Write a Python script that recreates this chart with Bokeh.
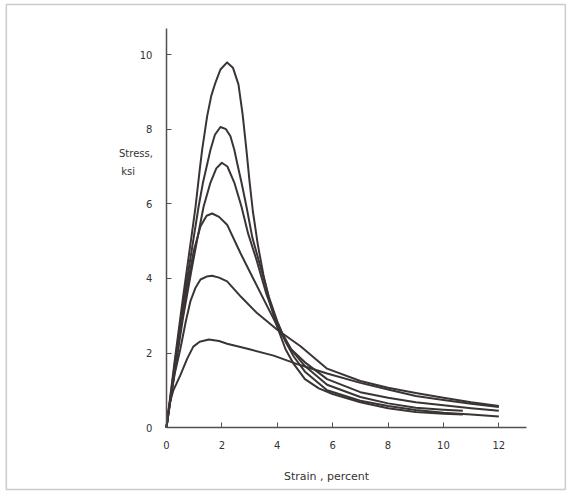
from bokeh.plotting import figure
from bokeh.models import Label, BoxAnnotation, FixedTicker
from bokeh.embed import file_html
from bokeh.resources import INLINE

# Stress-strain curves (strain in percent, stress in ksi)
c1_x = [0, 0.3, 0.6, 0.9, 1.05, 1.2, 1.29, 1.47, 1.62, 1.77, 1.95, 2.19, 2.4, 2.6, 2.75, 2.88, 3.0, 3.12,
        3.3, 3.5, 3.75, 4.0, 4.3, 4.6, 5.0, 5.5, 6, 7, 8, 9, 10, 10.7]
c1_y = [0, 1.8, 3.5, 5.1, 5.92, 6.9, 7.45, 8.35, 8.9, 9.25, 9.6, 9.79, 9.65, 9.2, 8.4, 7.5, 6.6, 5.8,
        4.9, 4.1, 3.3, 2.7, 2.1, 1.7, 1.3, 1.05, 0.9, 0.68, 0.52, 0.42, 0.37, 0.35]

c2_x = [0, 0.3, 0.6, 0.9, 1.16, 1.32, 1.59, 1.75, 1.95, 2.15, 2.31, 2.45, 2.58, 2.71, 2.89, 3.1, 3.4,
        3.7, 4.0, 4.3, 4.6, 5.0, 5.8, 7, 8, 9, 10, 11, 12]
c2_y = [0, 1.7, 3.3, 4.7, 5.92, 6.57, 7.45, 7.85, 8.06, 8.0, 7.81, 7.45, 7.0, 6.57, 5.92, 5.1, 4.3,
        3.5, 2.85, 2.3, 1.9, 1.5, 1.0, 0.72, 0.58, 0.47, 0.4, 0.35, 0.3]

c3_x = [0, 0.3, 0.6, 0.9, 1.1, 1.34, 1.59, 1.8, 2.0, 2.2, 2.45, 2.71, 2.95, 3.25, 3.6, 3.9, 4.2, 4.5,
        5.0, 5.8, 7, 8, 9, 10, 10.7]
c3_y = [0, 1.5, 2.95, 4.2, 5.0, 5.92, 6.57, 6.95, 7.1, 7.0, 6.57, 5.92, 5.2, 4.5, 3.6, 3.0, 2.5, 2.1,
        1.65, 1.15, 0.82, 0.65, 0.53, 0.48, 0.45]

c4_x = [0, 0.25, 0.5, 0.75, 0.99, 1.23, 1.45, 1.65, 1.9, 2.19, 2.67, 3.15, 3.64, 4.12, 4.5, 5.0, 5.8,
        7, 8, 9, 10, 11, 12]
c4_y = [0, 1.3, 2.6, 3.8, 4.75, 5.4, 5.68, 5.74, 5.65, 5.44, 4.68, 3.97, 3.25, 2.55, 2.1, 1.75, 1.3,
        0.95, 0.8, 0.68, 0.6, 0.52, 0.45]

c5_x = [0, 0.15, 0.3, 0.5, 0.7, 0.87, 1.05, 1.23, 1.45, 1.65, 1.9, 2.19, 2.7, 3.27, 3.99, 4.84, 5.8,
        7, 8, 9, 10, 11, 12]
c5_y = [0, 0.8, 1.45, 2.1, 2.85, 3.4, 3.75, 3.97, 4.05, 4.07, 4.02, 3.92, 3.5, 3.07, 2.63, 2.18, 1.58,
        1.25, 1.07, 0.93, 0.8, 0.68, 0.58]

c6_x = [0, 0.1, 0.25, 0.5, 0.75, 0.97, 1.2, 1.53, 1.9, 2.19, 3.0, 3.87, 4.77, 5.8, 7, 8, 9, 10, 11, 12]
c6_y = [0, 0.6, 1.0, 1.4, 1.85, 2.17, 2.3, 2.36, 2.32, 2.25, 2.1, 1.93, 1.69, 1.45, 1.2, 1.02, 0.85,
        0.74, 0.64, 0.55]

curves = [(c1_x, c1_y), (c2_x, c2_y), (c3_x, c3_y), (c4_x, c4_y), (c5_x, c5_y), (c6_x, c6_y)]

x_ticks = [0, 2, 4, 6, 8, 10, 12]
y_ticks = [0, 2, 4, 6, 8, 10]
y_label_lines = ["Stress,", "ksi"]
x_label = "Strain , percent"

ink = "#3b3434"
axis_ink = "#555050"
text_ink = "#333333"

# the frame covers the whole page; the axes sit at strain 0 and stress 0
p = figure(width=569, height=495, x_range=(-5.99, 14.55), y_range=(-1.82, 11.45),
           output_backend="svg", toolbar_location=None, min_border=0)
p.outline_line_color = None
p.grid.visible = False
p.background_fill_color = "white"
p.border_fill_color = "white"

p.xaxis.fixed_location = 0
p.yaxis.fixed_location = 0
p.xaxis.bounds = (0, 13)
p.yaxis.bounds = (0, 10.7)

for ax in (p.xaxis, p.yaxis):
    ax.axis_line_color = axis_ink
    ax.axis_line_width = 1.5
    ax.major_tick_in = 5
    ax.major_tick_out = 0
    ax.minor_tick_line_color = None
    ax.major_tick_line_color = axis_ink
    ax.major_label_text_font = "DejaVu Sans"
    ax.major_label_text_font_size = "10px"
    ax.major_label_text_color = text_ink

p.xaxis.major_label_standoff = 13
p.yaxis.major_label_standoff = 14

p.xaxis.ticker = FixedTicker(ticks=x_ticks)
p.yaxis.ticker = FixedTicker(ticks=y_ticks)

for xs, ys in curves:
    p.line(xs, ys, line_color=ink, line_width=2.0, line_join="round")

p.add_layout(Label(x=-1.1, y=7.35, text=y_label_lines[0], text_font="DejaVu Sans",
                   text_font_size="10px", text_color=text_ink, text_align="center",
                   text_baseline="middle"))
p.add_layout(Label(x=-1.38, y=6.87, text=y_label_lines[1], text_font="DejaVu Sans",
                   text_font_size="10px", text_color=text_ink, text_align="center",
                   text_baseline="middle"))
p.add_layout(Label(x=5.78, y=-1.31, text=x_label, text_font="DejaVu Sans",
                   text_font_size="11px", text_color=text_ink, text_align="center",
                   text_baseline="middle"))

p.add_layout(BoxAnnotation(left=-5.78, right=14.4, bottom=-1.66, top=11.34,
                           fill_color=None, line_color="#555555", line_width=1.5))

open("out.html", "w").write(file_html(p, INLINE))
